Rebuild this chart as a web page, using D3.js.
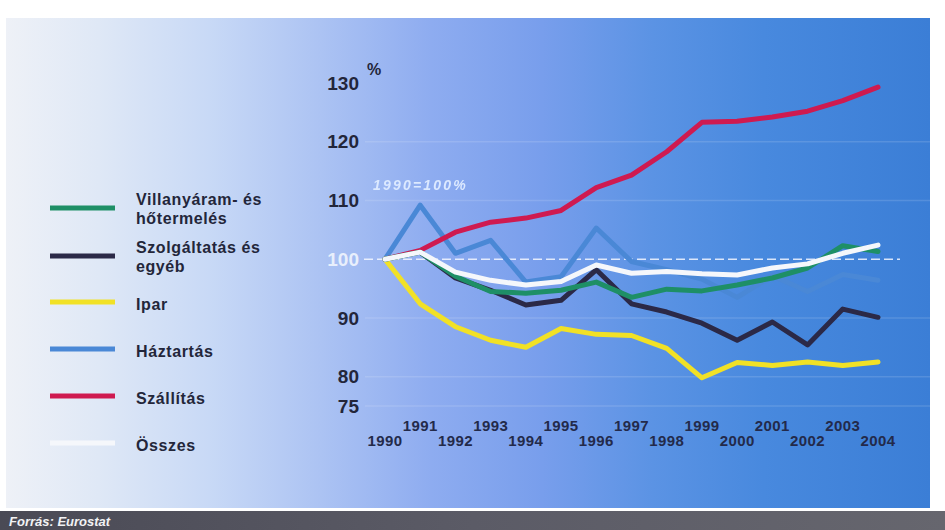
<!DOCTYPE html>
<html>
<head>
<meta charset="utf-8">
<script src="https://cdn.jsdelivr.net/npm/d3@7/dist/d3.min.js"></script>
<style>
  html, body { margin: 0; padding: 0; background: #ffffff; }
  svg { display: block; font-family: "Liberation Sans", Arial, sans-serif; }
</style>
</head>
<body>
<svg id="chart" width="945" height="530"></svg>
<script>
// Energy consumption by sector, index 1990 = 100%
const years = [1990, 1991, 1992, 1993, 1994, 1995, 1996, 1997, 1998, 1999, 2000, 2001, 2002, 2003, 2004];
const villanyaram = [100, 101.2, 97.1, 94.5, 94.2, 94.7, 96.1, 93.5, 94.9, 94.6, 95.6, 96.8, 98.5, 102.3, 101.3];
const szolgaltatas = [100, 101.2, 96.8, 94.7, 92.2, 93.0, 98.2, 92.4, 91.0, 89.1, 86.2, 89.3, 85.4, 91.5, 90.1];
const ipar = [100, 92.4, 88.5, 86.2, 85.0, 88.2, 87.2, 87.0, 84.8, 79.8, 82.4, 81.9, 82.5, 81.9, 82.5];
const haztartas = [100, 109.2, 101.0, 103.2, 96.1, 97.0, 105.3, 99.6, 98.2, 96.6, 93.5, 97.2, 94.5, 97.4, 96.4];
const szallitas = [100, 101.5, 104.6, 106.3, 107.0, 108.3, 112.2, 114.3, 118.3, 123.3, 123.5, 124.2, 125.2, 127.0, 129.3];
const osszes = [100, 101.2, 97.8, 96.4, 95.6, 96.2, 99.0, 97.6, 97.9, 97.5, 97.3, 98.5, 99.2, 101.0, 102.4];

const yTicks = [75, 80, 90, 100, 110, 120, 130];
const gridValues = [75, 80, 90, 110, 120];

const seriesNames = ["Villanyáram- és\nhőtermelés", "Szolgáltatás és\negyéb", "Ipar", "Háztartás", "Szállítás", "Összes"];
const seriesValues = [villanyaram, szolgaltatas, ipar, haztartas, szallitas, osszes];
const seriesColors = ["#1e8f66", "#2b2947", "#f1e126", "#4a88d6", "#cf1a50", "#f5f7fb"];
// drawing order: household first, total last on top
const drawOrder = [3, 4, 2, 1, 0, 5];

const svg = d3.select("#chart");
const defs = svg.append("defs");

const bg = defs.append("linearGradient").attr("id", "panelGrad")
  .attr("x1", "0").attr("y1", "0").attr("x2", "1").attr("y2", "0");
[[0, "#eef1f7"], [0.1, "#dfe8f6"], [0.22, "#c8d9f6"], [0.34, "#acc3f3"],
 [0.46, "#8eacf0"], [0.58, "#789eec"], [0.7, "#5b93e4"], [0.82, "#4889de"], [1, "#3b7ed6"]]
  .forEach(([o, c]) => bg.append("stop").attr("offset", o).attr("stop-color", c));

const band = defs.append("linearGradient").attr("id", "bandGrad")
  .attr("x1", "0").attr("y1", "0").attr("x2", "1").attr("y2", "0");
[[0, "#4a4a55"], [0.5, "#5b5b66"], [1, "#66666e"]]
  .forEach(([o, c]) => band.append("stop").attr("offset", o).attr("stop-color", c));

const glow = defs.append("filter").attr("id", "glow").attr("x", "-20%").attr("y", "-50%")
  .attr("width", "140%").attr("height", "200%");
glow.append("feGaussianBlur").attr("stdDeviation", 0.6);

// background panel and source band
svg.append("rect").attr("x", 6).attr("y", 18).attr("width", 924).attr("height", 490)
  .attr("fill", "url(#panelGrad)");
svg.append("rect").attr("x", 0).attr("y", 511).attr("width", 945).attr("height", 19)
  .attr("fill", "url(#bandGrad)");
svg.append("text").attr("x", 9).attr("y", 526)
  .attr("fill", "#f2f2f4").attr("font-size", 13).attr("font-weight", "bold")
  .attr("font-style", "italic").text("Forrás: Eurostat");

const x = d3.scaleLinear().domain([1990, 2004]).range([385, 878]);
const y = d3.scaleLinear().domain([75, 130]).range([406, 83]);

// faint horizontal guides
svg.append("g").selectAll("line").data(gridValues).join("line")
  .attr("x1", 365).attr("x2", 930)
  .attr("y1", d => y(d)).attr("y2", d => y(d))
  .attr("stroke", "#ffffff").attr("stroke-opacity", 0.13).attr("stroke-width", 1.5);

// dashed 100% reference
svg.append("line")
  .attr("x1", 364).attr("x2", 900).attr("y1", y(100)).attr("y2", y(100))
  .attr("stroke", "#f4f7ff").attr("stroke-opacity", 0.85).attr("stroke-width", 1.6)
  .attr("stroke-dasharray", "9,4");

// y axis
const yAxis = svg.append("g").attr("transform", "translate(361,0)")
  .call(d3.axisLeft(y).tickValues(yTicks).tickSize(0).tickPadding(2));
yAxis.select(".domain").remove();
yAxis.selectAll("text")
  .attr("font-family", "'Liberation Sans', Arial, sans-serif")
  .attr("font-size", 19).attr("font-weight", "bold")
  .attr("fill", d => d === 100 ? "#e8effc" : "#23263a");

svg.append("text").attr("x", 367).attr("y", 75)
  .attr("font-size", 16).attr("font-weight", "bold").attr("fill", "#23263a").text("%");

// x axis with staggered year labels
const xAxis = svg.append("g")
  .call(d3.axisBottom(x).tickValues(years).tickFormat(d3.format("d")).tickSize(0));
xAxis.select(".domain").remove();
xAxis.selectAll(".tick").attr("transform", d => `translate(${x(d)},0)`);
xAxis.selectAll("text")
  .attr("dy", null)
  .attr("y", d => (d % 2 === 1) ? 431 : 446)
  .attr("font-family", "'Liberation Sans', Arial, sans-serif")
  .attr("font-size", 15).attr("font-weight", "bold")
  .attr("letter-spacing", 0.4)
  .attr("fill", "#232a4a");

// base year note
svg.append("text").attr("x", 373).attr("y", 190)
  .attr("font-size", 14).attr("font-weight", "bold").attr("font-style", "italic")
  .attr("letter-spacing", 2.2)
  .attr("fill", "#dce9ff").attr("filter", "url(#glow)").text("1990=100%");

// series lines
const line = d3.line().x((d, i) => x(years[i])).y(d => y(d)).curve(d3.curveLinear);
svg.append("g").selectAll("path").data(drawOrder).join("path")
  .attr("d", i => line(seriesValues[i]))
  .attr("fill", "none")
  .attr("stroke", i => seriesColors[i])
  .attr("stroke-width", 5)
  .attr("stroke-linejoin", "round")
  .attr("stroke-linecap", "round");

// legend
const legendLineY = [208, 256, 302, 349, 396, 443];
const legend = svg.append("g");
seriesNames.forEach((name, i) => {
  const ly = legendLineY[i];
  legend.append("line").attr("x1", 50).attr("x2", 115).attr("y1", ly).attr("y2", ly)
    .attr("stroke", seriesColors[i]).attr("stroke-width", 5);
  const parts = name.split("\n");
  parts.forEach((p, k) => {
    legend.append("text").attr("x", 136)
      .attr("y", parts.length === 2 ? ly - 3 + k * 18.5 : ly + 8)
      .attr("font-size", 16).attr("font-weight", "bold").attr("letter-spacing", 0.6)
      .attr("fill", "#23263a").text(p);
  });
});
</script>
</body>
</html>
